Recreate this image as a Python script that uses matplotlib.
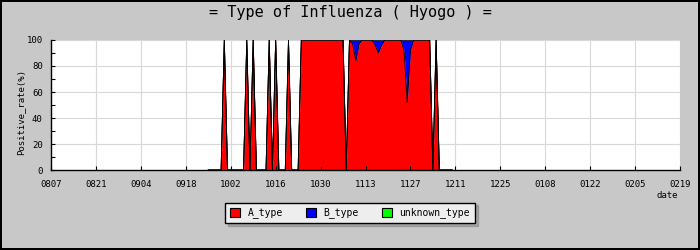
import matplotlib.pyplot as plt
import numpy as np
from matplotlib.patches import Patch

plt.rcParams['font.family'] = ['DejaVu Sans Mono']

# x axis is days counted from 0807, data starts at day 49 (0925)
start_day = 49
a_type = [0, 0, 0, 0, 0, 100, 0, 0, 0, 0,
          0, 0, 100, 0, 100, 0, 0, 0, 0, 100,
          0, 100, 0, 0, 0, 100, 0, 0, 0,
          100, 100, 100, 100, 100, 100, 100, 100, 100, 100, 100, 100, 100, 100,
          0,
          100, 97, 84, 97, 100, 100, 100, 100, 96, 90, 96, 100, 100,
          100, 100, 100, 100, 92, 52, 92, 100, 100, 100, 100, 100, 100,
          0, 100, 0, 0, 0, 0, 0]
b_type = [0, 0, 0, 0, 0, 0, 0, 0, 0, 0,
          0, 0, 0, 0, 0, 0, 0, 0, 0, 0,
          0, 0, 0, 0, 0, 0, 0, 0, 0,
          0, 0, 0, 0, 0, 0, 0, 0, 0, 0, 0, 0, 0, 0,
          0,
          0, 3, 16, 3, 0, 0, 0, 0, 4, 10, 4, 0, 0,
          0, 0, 0, 0, 8, 48, 8, 0, 0, 0, 0, 0, 0,
          0, 0, 0, 0, 0, 0, 0]
unknown_type = [0, 0, 0, 0, 0, 0, 0, 0, 0, 0,
                0, 0, 0, 0, 0, 0, 0, 0, 0, 0,
                0, 0, 0, 0, 0, 0, 0, 0, 0,
                0, 0, 0, 0, 0, 0, 0, 0, 0, 0, 0, 0, 0, 0,
                0,
                0, 0, 0, 0, 0, 0, 0, 0, 0, 0, 0, 0, 0,
                0, 0, 0, 0, 0, 0, 0, 0, 0, 0, 0, 0, 0,
                0, 0, 0, 0, 0, 0, 0]
date_labels = ['0807', '0821', '0904', '0918', '1002', '1016', '1030', '1113',
               '1127', '1211', '1225', '0108', '0122', '0205', '0219']
series_names = ['A_type', 'B_type', 'unknown_type']
colors = ['#FF0000', '#0000FF', '#00FF00']

fig = plt.figure(figsize=(7, 2.5), dpi=100)
fig.patch.set_facecolor('#C8C8C8')
fig.patch.set_edgecolor('black')
fig.patch.set_linewidth(1.5)
ax = fig.add_axes([51/700, 80/250, 629/700, 130/250])
ax.set_facecolor('white')

xt = np.arange(len(date_labels)) * 14
ax.set_xlim(xt[0], xt[-1])
ax.set_ylim(0, 100)
for v in xt:
    ax.axvline(v, color='#D8D8D8', lw=0.8, zorder=0)
for v in range(20, 101, 20):
    ax.axhline(v, color='#D8D8D8', lw=0.8, zorder=0)

x = np.arange(start_day, start_day + len(a_type))
lo = np.zeros(len(x))
for vals, c in zip([a_type, b_type, unknown_type], colors):
    hi = lo + np.array(vals)
    ax.fill_between(x, lo, hi, color=c, lw=0, zorder=1)
    lo = hi
cum = np.zeros(len(x))
for vals in [a_type, b_type, unknown_type]:
    cum = cum + np.array(vals)
    ax.plot(x, cum, color='black', lw=0.6, zorder=2)

ax.set_xticks(xt)
ax.set_xticklabels(date_labels)
ax.set_yticks(range(0, 101, 20))
ax.set_yticks(range(10, 100, 20), minor=True)
ax.tick_params(which='both', direction='in', length=3, width=0.8, color='black',
               labelsize=6.5, pad=6)
ax.tick_params(axis='x', pad=7)
for s in ['top', 'right']:
    ax.spines[s].set_visible(False)
for s in ['left', 'bottom']:
    ax.spines[s].set_linewidth(1)
    ax.spines[s].set_zorder(3)

fig.text(0.5, 1 - 13/250, '= Type of Influenza ( Hyogo ) =', ha='center', va='center', fontsize=11)
fig.text(21/700, 1 - 112/250, 'Positive_rate(%)', rotation=90, ha='center', va='center', fontsize=6.5)
fig.text(667/700, 1 - 196/250, 'date', ha='center', va='center', fontsize=6.5)

handles = [Patch(facecolor=c, edgecolor='black', lw=0.8) for c in colors]
leg = fig.legend(handles, series_names, loc='center', bbox_to_anchor=(350/700, 1 - 213/250),
                 ncol=3, fancybox=False, shadow={'color': '0.4', 'alpha': 0.35},
                 edgecolor='black', facecolor='#EEEEEE',
                 framealpha=1, fontsize=7, handlelength=1.0, handleheight=1.0,
                 handletextpad=0.8, columnspacing=2.4, borderpad=0.5, borderaxespad=0)
leg.get_frame().set_linewidth(1)

fig.savefig('out.png', dpi=100, facecolor=fig.get_facecolor(), edgecolor='black')
